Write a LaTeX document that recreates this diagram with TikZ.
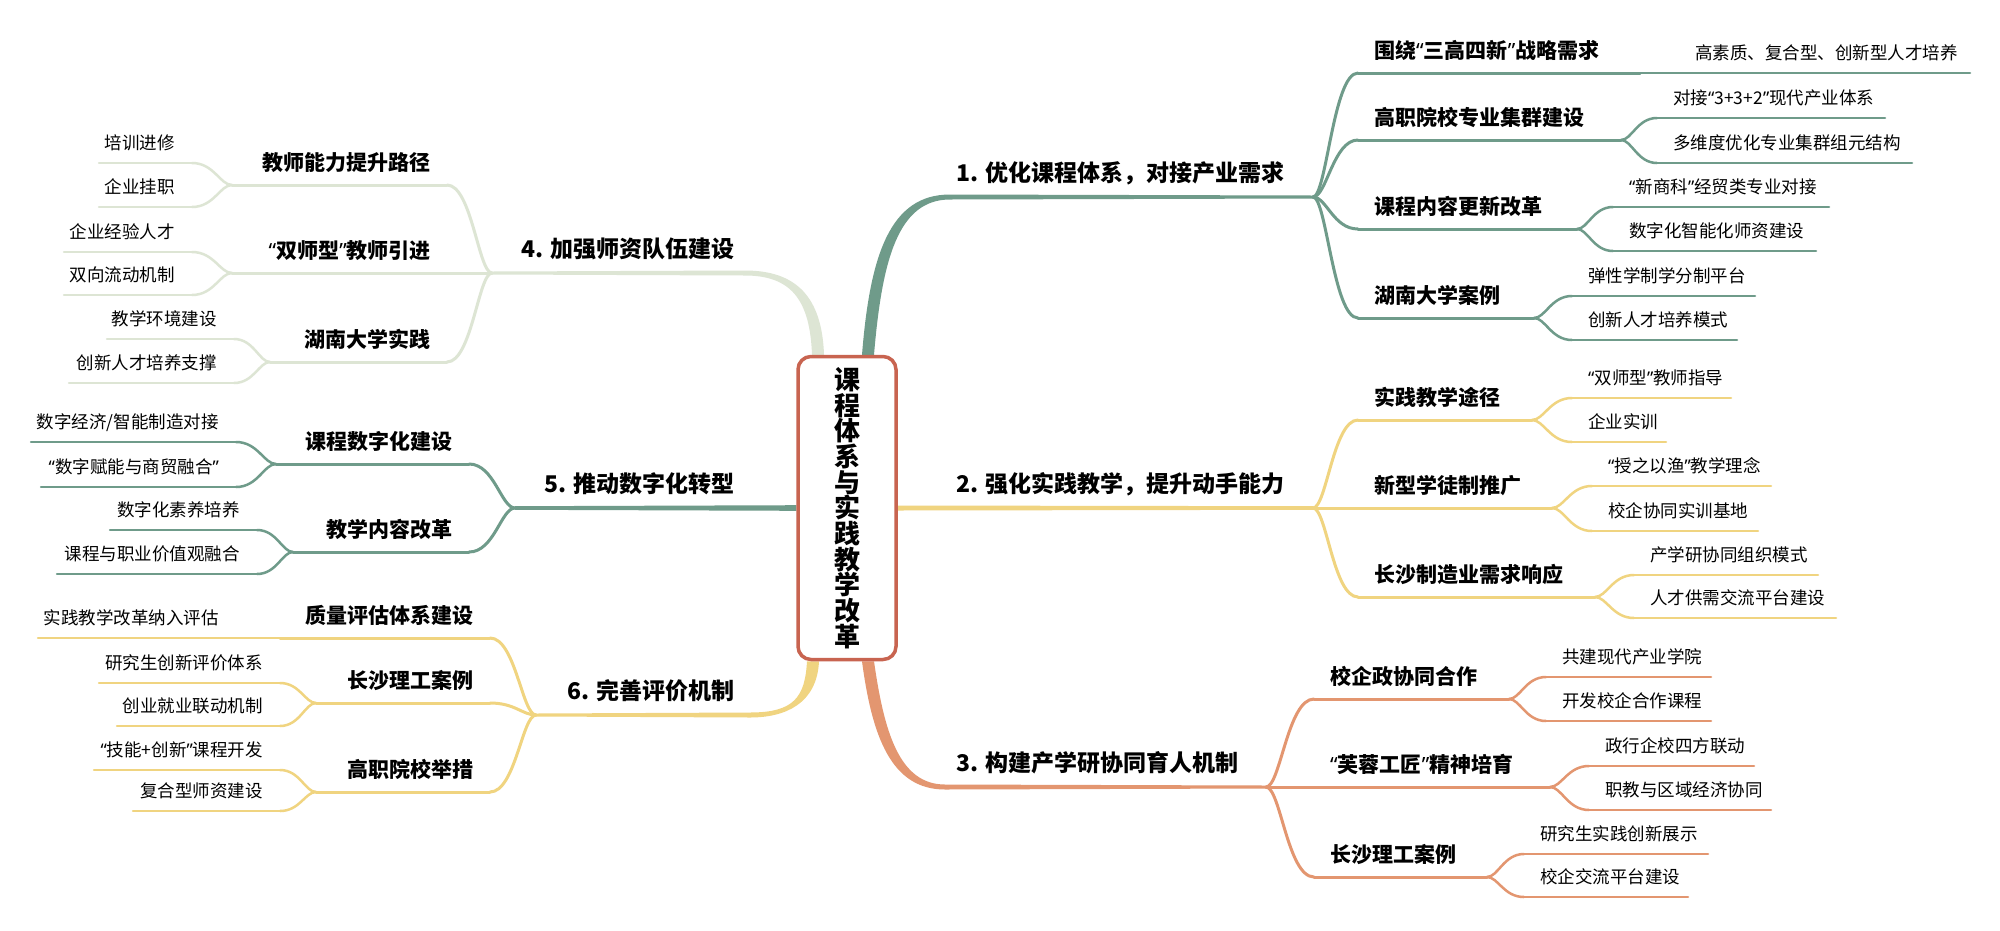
\documentclass[tikz,border=0pt]{standalone}
\usepackage{fontspec}
\setmainfont{Noto Sans CJK SC}
\newfontfamily\qfont{Noto Sans}
\newcommand\oq{{\qfont “}}
\newcommand\cq{{\qfont ”}}
\usetikzlibrary{calc,backgrounds}
\definecolor{cg}{HTML}{6F9B8A}
\definecolor{cy}{HTML}{F0D480}
\definecolor{co}{HTML}{E39670}
\definecolor{cp}{HTML}{DDE5D4}
\definecolor{cr}{HTML}{C86450}
\newcommand\topic[7]{%
  \coordinate (#1-s) at (#3,#5);
  \coordinate (#1-e) at (#4,#5);
  \draw[#2] (#1-s) -- (#1-e);
  \node[#6] (#1) at (#1-s) {#7};
}
\newcommand\conn[3]{\draw[#3] let \p1=(#1), \p2=(#2), \n1={\x2-\x1} in (#1) .. controls ([xshift=0.3*\n1]#1) and ([xshift=-0.55*\n1]#2) .. (#2);}
\tikzset{
  ln2/.style={draw=#1, line width=3pt, line cap=round},
  ln3/.style={draw=#1, line width=2.5pt, line cap=round},
  l1/.style={font=\fontsize{23}{25}\selectfont\bfseries, inner sep=0pt},
  l1r/.style={l1, anchor=base west, yshift=15.6pt},
  l1l/.style={l1, anchor=base east, yshift=15.6pt},
  l2/.style={font=\fontsize{21}{24}\selectfont\bfseries, inner sep=0pt},
  l2r/.style={l2, anchor=base west, xshift=16pt, yshift=14.3pt},
  l2l/.style={l2, anchor=base east, xshift=-16pt, yshift=14.3pt},
  lf/.style={font=\fontsize{17.5}{20}\selectfont, inner sep=0pt},
  lfr/.style={lf, anchor=base west, xshift=16pt, yshift=13.6pt},
  lfl/.style={lf, anchor=base east, xshift=-17pt, yshift=13.6pt},
}
\begin{document}
\begin{tikzpicture}[x=1pt,y=-1pt]
\useasboundingbox (0,0) rectangle (2000,930);
% central node
\node[draw=cr, line width=3.5pt, rounded corners=13pt, fill=white, minimum width=98pt, minimum height=303pt, inner sep=0pt, align=center, font=\fontsize{26}{25.7}\selectfont\bfseries] (C) at (847,508) {课\\程\\体\\系\\与\\实\\践\\教\\学\\改\\革};

% branch anchor coordinates
\coordinate (r1) at ($(C.north)+(21,0)$);
\coordinate (r4) at ($(C.north)+(-29,0)$);
\coordinate (r3) at ($(C.south)+(21,0)$);
\coordinate (r6) at ($(C.south)+(-34,0)$);
\coordinate (B1-s) at (950,197); \coordinate (B1-e) at (1313,197);
\coordinate (B2-e) at (1313,508);
\coordinate (B3-s) at (945,787); \coordinate (B3-e) at (1266,787);
\coordinate (B4-s) at (745,273); \coordinate (B4-e) at (492,273);
\coordinate (B5-e) at (515,508);
\coordinate (B6-s) at (750,715); \coordinate (B6-e) at (536,715);

\begin{pgfonlayer}{background}
\fill[white] (0,0) rectangle (2000,930);
\fill[cg] ($(r1)+(-6,0)$) .. controls ($(r1)+(2,-100)$) and ($(B1-s)+(-60,-2.5)$) .. ($(B1-s)+(0,-2.5)$) -- ($(B1-e)+(0,-1.5)$) -- ($(B1-e)+(0,1.5)$) -- ($(B1-s)+(0,2.5)$) .. controls ($(B1-s)+(-52,2.5)$) and ($(r1)+(14,-95)$) .. ($(r1)+(6,0)$) -- cycle;
\fill[cy] ($(C.east)+(0,-2.5)$) -- ($(B2-e)+(0,-1.8)$) -- ($(B2-e)+(0,1.8)$) -- ($(C.east)+(0,2.5)$) -- cycle;
\fill[co] ($(r3)+(-6,0)$) .. controls ($(r3)+(4,75)$) and ($(B3-s)+(-54,2.5)$) .. ($(B3-s)+(0,2.5)$) -- ($(B3-e)+(0,1.5)$) -- ($(B3-e)+(0,-1.5)$) -- ($(B3-s)+(0,-2.5)$) .. controls ($(B3-s)+(-46,-2.5)$) and ($(r3)+(16,70)$) .. ($(r3)+(6,0)$) -- cycle;
\fill[cp] ($(r4)+(6,0)$) .. controls ($(r4)+(4,-57)$) and ($(B4-s)+(52,-2.5)$) .. ($(B4-s)+(0,-2.5)$) -- ($(B4-e)+(0,-1.5)$) -- ($(B4-e)+(0,1.5)$) -- ($(B4-s)+(0,2.5)$) .. controls ($(B4-s)+(46,2.5)$) and ($(r4)+(-8,-55)$) .. ($(r4)+(-6,0)$) -- cycle;
\fill[cg] ($(C.west)+(0,-2.8)$) -- ($(B5-e)+(0,-1.8)$) -- ($(B5-e)+(0,1.8)$) -- ($(C.west)+(0,2.8)$) -- cycle;
\fill[cy] ($(r6)+(6,0)$) .. controls ($(r6)+(4,42)$) and ($(B6-s)+(36,2.5)$) .. ($(B6-s)+(0,2.5)$) -- ($(B6-e)+(0,1.5)$) -- ($(B6-e)+(0,-1.5)$) -- ($(B6-s)+(0,-2.5)$) .. controls ($(B6-s)+(44,-2.5)$) and ($(r6)+(-8,36)$) .. ($(r6)+(-6,0)$) -- cycle;
\end{pgfonlayer}

% level-1 labels
\node[l1r] (T1) at (956,197) {1. 优化课程体系，对接产业需求};
\node[l1r] (T2) at (956,508) {2. 强化实践教学，提升动手能力};
\node[l1r] (T3) at (956,787) {3. 构建产学研协同育人机制};
\node[l1l] (T4) at (735,273) {4. 加强师资队伍建设};
\node[l1l] (T5) at (735,508) {5. 推动数字化转型};
\node[l1l] (T6) at (735,715) {6. 完善评价机制};

% ---- branch 1
\topic{a1}{ln2=cg}{1358}{1640}{73}{l2r}{围绕\oq 三高四新\cq 战略需求}
\coordinate (a11-s) at (1679,73); \coordinate (a11-e) at (1970,73);
\draw[ln3=cg] (a1-e) -- (a11-e);
\node[lfr] (a11) at (a11-s) {高素质、复合型、创新型人才培养};
\topic{a2}{ln2=cg}{1358}{1621}{140}{l2r}{高职院校专业集群建设}
\topic{a21}{ln3=cg}{1657}{1885}{118}{lfr}{对接\oq 3+3+2\cq 现代产业体系}
\topic{a22}{ln3=cg}{1657}{1912}{163}{lfr}{多维度优化专业集群组元结构}
\topic{a3}{ln2=cg}{1358}{1577}{229}{l2r}{课程内容更新改革}
\topic{a31}{ln3=cg}{1613}{1829}{207}{lfr}{\oq 新商科\cq 经贸类专业对接}
\topic{a32}{ln3=cg}{1613}{1816}{251}{lfr}{数字化智能化师资建设}
\topic{a4}{ln2=cg}{1358}{1534}{318}{l2r}{湖南大学案例}
\topic{a41}{ln3=cg}{1572}{1755}{296}{lfr}{弹性学制学分制平台}
\topic{a42}{ln3=cg}{1572}{1737}{340}{lfr}{创新人才培养模式}
\conn{B1-e}{a1-s}{ln2=cg}
\conn{B1-e}{a2-s}{ln2=cg}
\conn{B1-e}{a3-s}{ln2=cg}
\conn{B1-e}{a4-s}{ln2=cg}
\conn{a2-e}{a21-s}{ln3=cg}
\conn{a2-e}{a22-s}{ln3=cg}
\conn{a3-e}{a31-s}{ln3=cg}
\conn{a3-e}{a32-s}{ln3=cg}
\conn{a4-e}{a41-s}{ln3=cg}
\conn{a4-e}{a42-s}{ln3=cg}

% ---- branch 2
\topic{b1}{ln2=cy}{1358}{1532}{420}{l2r}{实践教学途径}
\topic{b11}{ln3=cy}{1572}{1731}{398}{lfr}{\oq 双师型\cq 教师指导}
\topic{b12}{ln3=cy}{1572}{1666}{442}{lfr}{企业实训}
\topic{b2}{ln2=cy}{1358}{1552}{508}{l2r}{新型学徒制推广}
\topic{b21}{ln3=cy}{1592}{1771}{486}{lfr}{\oq 授之以渔\cq 教学理念}
\topic{b22}{ln3=cy}{1592}{1758}{531}{lfr}{校企协同实训基地}
\topic{b3}{ln2=cy}{1358}{1595}{597}{l2r}{长沙制造业需求响应}
\topic{b31}{ln3=cy}{1634}{1818}{575}{lfr}{产学研协同组织模式}
\topic{b32}{ln3=cy}{1634}{1836}{618}{lfr}{人才供需交流平台建设}
\conn{B2-e}{b1-s}{ln2=cy}
\conn{B2-e}{b2-s}{ln2=cy}
\conn{B2-e}{b3-s}{ln2=cy}
\conn{b1-e}{b11-s}{ln3=cy}
\conn{b1-e}{b12-s}{ln3=cy}
\conn{b2-e}{b21-s}{ln3=cy}
\conn{b2-e}{b22-s}{ln3=cy}
\conn{b3-e}{b31-s}{ln3=cy}
\conn{b3-e}{b32-s}{ln3=cy}

% ---- branch 3
\topic{c1}{ln2=co}{1314}{1509}{699}{l2r}{校企政协同合作}
\topic{c11}{ln3=co}{1546}{1711}{677}{lfr}{共建现代产业学院}
\topic{c12}{ln3=co}{1546}{1711}{721}{lfr}{开发校企合作课程}
\topic{c2}{ln2=co}{1314}{1550}{787}{l2r}{\oq 芙蓉工匠\cq 精神培育}
\topic{c21}{ln3=co}{1589}{1754}{766}{lfr}{政行企校四方联动}
\topic{c22}{ln3=co}{1589}{1771}{810}{lfr}{职教与区域经济协同}
\topic{c3}{ln2=co}{1314}{1487}{877}{l2r}{长沙理工案例}
\topic{c31}{ln3=co}{1524}{1708}{854}{lfr}{研究生实践创新展示}
\topic{c32}{ln3=co}{1524}{1688}{897}{lfr}{校企交流平台建设}
\conn{B3-e}{c1-s}{ln2=co}
\conn{B3-e}{c2-s}{ln2=co}
\conn{B3-e}{c3-s}{ln2=co}
\conn{c1-e}{c11-s}{ln3=co}
\conn{c1-e}{c12-s}{ln3=co}
\conn{c2-e}{c21-s}{ln3=co}
\conn{c2-e}{c22-s}{ln3=co}
\conn{c3-e}{c31-s}{ln3=co}
\conn{c3-e}{c32-s}{ln3=co}

% ---- branch 4
\topic{d1}{ln2=cp}{447}{232}{185}{l2l}{教师能力提升路径}
\topic{d11}{ln3=cp}{192}{99}{163}{lfl}{培训进修}
\topic{d12}{ln3=cp}{192}{99}{207}{lfl}{企业挂职}
\topic{d2}{ln2=cp}{447}{232}{273}{l2l}{\oq 双师型\cq 教师引进}
\topic{d21}{ln3=cp}{192}{64}{252}{lfl}{企业经验人才}
\topic{d22}{ln3=cp}{192}{64}{295}{lfl}{双向流动机制}
\topic{d3}{ln2=cp}{447}{270}{362}{l2l}{湖南大学实践}
\topic{d31}{ln3=cp}{234}{107}{339}{lfl}{教学环境建设}
\topic{d32}{ln3=cp}{234}{69}{383}{lfl}{创新人才培养支撑}
\conn{B4-e}{d1-s}{ln2=cp}
\conn{B4-e}{d2-s}{ln2=cp}
\conn{B4-e}{d3-s}{ln2=cp}
\conn{d1-e}{d11-s}{ln3=cp}
\conn{d1-e}{d12-s}{ln3=cp}
\conn{d2-e}{d21-s}{ln3=cp}
\conn{d2-e}{d22-s}{ln3=cp}
\conn{d3-e}{d31-s}{ln3=cp}
\conn{d3-e}{d32-s}{ln3=cp}

% ---- branch 5
\topic{e1}{ln2=cg}{469}{276}{464}{l2l}{课程数字化建设}
\topic{e11}{ln3=cg}{236}{31}{442}{lfl}{数字经济/智能制造对接}
\topic{e12}{ln3=cg}{236}{41}{487}{lfl}{\oq 数字赋能与商贸融合\cq}
\topic{e2}{ln2=cg}{469}{293}{552}{l2l}{教学内容改革}
\topic{e21}{ln3=cg}{257}{110}{530}{lfl}{数字化素养培养}
\topic{e22}{ln3=cg}{257}{57}{574}{lfl}{课程与职业价值观融合}
\conn{B5-e}{e1-s}{ln2=cg}
\conn{B5-e}{e2-s}{ln2=cg}
\conn{e1-e}{e11-s}{ln3=cg}
\conn{e1-e}{e12-s}{ln3=cg}
\conn{e2-e}{e21-s}{ln3=cg}
\conn{e2-e}{e22-s}{ln3=cg}

% ---- branch 6
\topic{f1}{ln2=cy}{490}{280}{638}{l2l}{质量评估体系建设}
\coordinate (f11-s) at (236,638); \coordinate (f11-e) at (38,638);
\draw[ln3=cy] (f1-e) -- (f11-e);
\node[lfl] (f11) at (f11-s) {实践教学改革纳入评估};
\topic{f2}{ln2=cy}{490}{316}{703}{l2l}{长沙理工案例}
\topic{f21}{ln3=cy}{280}{99}{683}{lfl}{研究生创新评价体系}
\topic{f22}{ln3=cy}{280}{117}{726}{lfl}{创业就业联动机制}
\topic{f3}{ln2=cy}{490}{316}{792}{l2l}{高职院校举措}
\topic{f31}{ln3=cy}{280}{94}{770}{lfl}{\oq 技能+创新\cq 课程开发}
\topic{f32}{ln3=cy}{280}{133}{811}{lfl}{复合型师资建设}
\conn{B6-e}{f1-s}{ln2=cy}
\conn{B6-e}{f2-s}{ln2=cy}
\conn{B6-e}{f3-s}{ln2=cy}
\conn{f2-e}{f21-s}{ln3=cy}
\conn{f2-e}{f22-s}{ln3=cy}
\conn{f3-e}{f31-s}{ln3=cy}
\conn{f3-e}{f32-s}{ln3=cy}
\end{tikzpicture}
\end{document}
